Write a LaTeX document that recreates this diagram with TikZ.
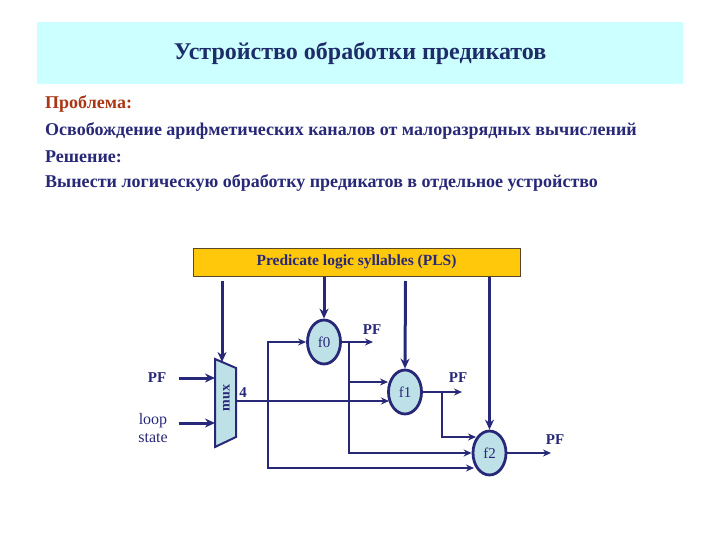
\documentclass[tikz,border=0pt]{standalone}
\usepackage{fontspec}
\setmainfont{Liberation Serif}
\usetikzlibrary{arrows.meta,shapes.geometric}
\definecolor{navy}{RGB}{40,40,120}
\definecolor{titlec}{RGB}{30,45,105}
\definecolor{band}{RGB}{204,255,255}
\definecolor{redb}{RGB}{170,55,20}
\definecolor{gold}{RGB}{255,200,10}
\definecolor{lblue}{RGB}{190,225,232}
\begin{document}
\begin{tikzpicture}[x=1pt,y=-1pt,
 every node/.style={text=navy},
 heading/.style={anchor=west, inner sep=0pt, font=\bfseries\fontsize{18}{20}\selectfont},
 fn/.style={ellipse, draw=navy, line width=2.8pt, fill=lblue, minimum width=33pt, minimum height=44pt, inner sep=0pt, font=\fontsize{15}{17}\selectfont},
 lab/.style={font=\bfseries\fontsize{15}{17}\selectfont, inner sep=0pt},
 thickarr/.style={draw=navy, line width=3pt, -{Stealth[length=10pt,width=9pt]}},
 arr/.style={draw=navy, line width=1.6pt, -{Stealth[length=8pt,width=7pt]}},
 ln/.style={draw=navy, line width=1.6pt},
]
\useasboundingbox (0,0) rectangle (720,540);
\fill[band] (37,22) rectangle (683,84);
\node[font=\bfseries\fontsize{24}{26}\selectfont, text=titlec] (title) at (360,53) {Устройство обработки предикатов};
\node[heading, text=redb] (t1) at (45,104) {Проблема:};
\node[heading] (t2) at (45,131) {Освобождение арифметических каналов от малоразрядных вычислений};
\node[heading] (t3) at (45,157) {Решение:};
\node[heading] (t4) at (45,183) {Вынести логическую обработку предикатов в отдельное устройство};

% PLS box
\node[draw={rgb,255:red,90;green,70;blue,40}, line width=1pt, fill=gold, minimum width=327pt, minimum height=28pt, inner sep=0pt, font=\bfseries\fontsize{15.5}{17}\selectfont] (pls) at (356.5,262) {Predicate logic syllables (PLS)};

% function units
\node[fn] (f0) at (324,342) {f0};
\node[fn] (f1) at (405,392) {f1};
\node[fn] (f2) at (489.5,453) {f2};

% mux
\draw[navy, line width=2pt, fill=lblue] (215,359) -- (236,368) -- (236,437) -- (215,447) -- cycle;
\node[rotate=90, font=\bfseries\fontsize{14}{16}\selectfont, inner sep=0pt] (mux) at (226.5,398) {mux};
\coordinate (muxL) at (215,402);
\coordinate (muxR) at (236,401);

% inputs
\node[lab] (pfin) at (157,378) {PF};
\node[align=center, font=\fontsize{16}{18.5}\selectfont, inner sep=0pt] (loop) at (153,428) {loop\\state};
\draw[thickarr] (179,378) -- (pfin -| muxL);
\draw[thickarr] (179,423) -- (muxL |- 0,423);

% PLS arrows
\draw[thickarr] (222,281) -- (222,362);
\draw[thickarr] (pls.south -| f0.north) -- (f0.north);
\draw[thickarr] (405.5,281) -- (f1.north);
\draw[thickarr] (pls.south -| f2.north) -- (f2.north);

% mux output
\draw[arr] (muxR) -- (389,401);
\node[lab, font=\bfseries\fontsize{15}{17}\selectfont] (four) at (243,393) {4};
\draw[arr] (268,401) |- (f0.west);
\draw[arr] (268,401) |- (474,468);

% f0 output
\node[lab] (pf0) at (372,330) {PF};
\draw[arr] (f0.east) -- (373,342);
\draw[ln] (349,342) -- (349,382);
\draw[arr] (349,382) -- (388,382);
\draw[arr] (349,382) |- (f2.west);

% f1 output
\node[lab] (pf1) at (458,378) {PF};
\draw[arr] (f1.east) -- (462,392);
\draw[arr] (442,392) |- (476,437);

% f2 output
\node[lab] (pf2) at (555,440) {PF};
\draw[arr] (f2.east) -- (551,453);
\end{tikzpicture}
\end{document}
